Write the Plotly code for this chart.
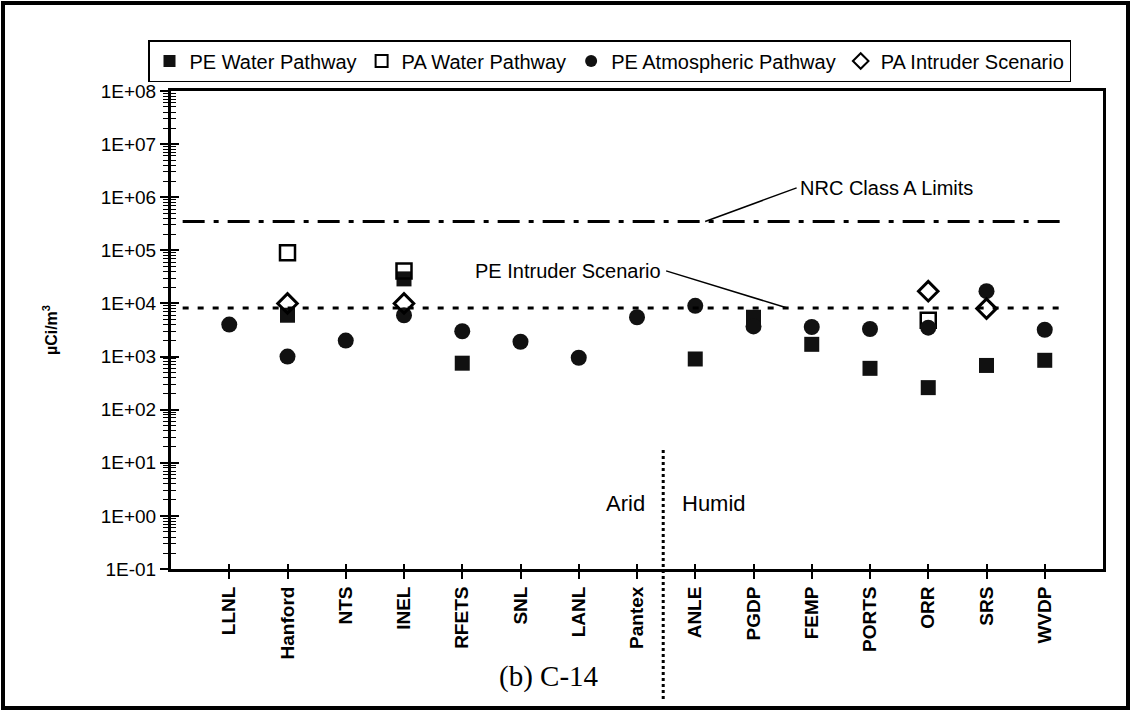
import numpy as np
import plotly.graph_objects as go

# ---------------- data ----------------
sites = ["LLNL", "Hanford", "NTS", "INEL", "RFETS", "SNL", "LANL", "Pantex",
         "ANLE", "PGDP", "FEMP", "PORTS", "ORR", "SRS", "WVDP"]
pe_water = [None, 6.0e3, None, 2.9e4, 7.5e2, None, None, None,
            9.0e2, 5.5e3, 1.7e3, 6.0e2, 2.6e2, 6.8e2, 8.5e2]
pa_water = [None, 9.0e4, None, 4.1e4, None, None, None, None,
            None, None, None, None, 4.8e3, None, None]
pe_atm = [4.0e3, 1.0e3, 2.0e3, 6.0e3, 3.0e3, 1.9e3, 9.5e2, 5.5e3,
          9.0e3, 3.7e3, 3.6e3, 3.3e3, 3.5e3, 1.7e4, 3.2e3]
pa_intruder = [None, 1.0e4, None, 1.0e4, None, None, None, None,
               None, None, None, None, 1.7e4, 8.0e3, None]
nrc_limit = 3.5e5
pe_intruder_limit = 8.2e3
ytick_vals = [1e-1, 1e0, 1e1, 1e2, 1e3, 1e4, 1e5, 1e6, 1e7, 1e8]
ytick_text = ["1E-01", "1E+00", "1E+01", "1E+02", "1E+03", "1E+04",
              "1E+05", "1E+06", "1E+07", "1E+08"]

# ---------------- geometry ----------------
W, H = 1131, 712
L, R, T, B = 171, 28, 91, 143
PW, PH = W - L - R, H - T - B
def px(xp):  # pixel x -> paper
    return (xp - L) / PW
def py(yp):  # pixel y -> paper
    return (H - B - yp) / PH

xpos = list(range(1, len(sites) + 1))
FONT = "Arial, Liberation Sans, sans-serif"

fig = go.Figure()
fig.add_trace(go.Scatter(x=xpos, y=pe_water, mode="markers", name="PE Water Pathway",
                         marker=dict(symbol="square", size=15, color="#111111")))
fig.add_trace(go.Scatter(x=xpos, y=pa_water, mode="markers", name="PA Water Pathway",
                         marker=dict(symbol="square-open", size=15, color="black",
                                     line=dict(width=2.5, color="black"))))
fig.add_trace(go.Scatter(x=xpos, y=pe_atm, mode="markers", name="PE Atmospheric Pathway",
                         marker=dict(symbol="circle", size=16, color="#111111")))
fig.add_trace(go.Scatter(x=xpos, y=pa_intruder, mode="markers", name="PA Intruder Scenario",
                         marker=dict(symbol="diamond-open", size=15, color="black",
                                     line=dict(width=3, color="black"))))

# reference lines
line_x = [0.2, 15.35]
fig.add_trace(go.Scatter(x=line_x, y=[nrc_limit] * 2, mode="lines", showlegend=False,
                         line=dict(color="black", width=3, dash="22px,9px,5px,9px")))
fig.add_trace(go.Scatter(x=line_x, y=[pe_intruder_limit] * 2, mode="lines", showlegend=False,
                         line=dict(color="black", width=3, dash="6px,9px")))
# leader lines
fig.add_trace(go.Scatter(x=[9.17, 10.74], y=[nrc_limit, 1.5e6], mode="lines", showlegend=False,
                         line=dict(color="black", width=1.5)))
fig.add_trace(go.Scatter(x=[8.5, 10.58], y=[4.1e4, pe_intruder_limit], mode="lines", showlegend=False,
                         line=dict(color="black", width=1.5)))

fig.add_annotation(x=10.77, y=np.log10(1.5e6), xref="x", yref="y", text="NRC Class A Limits",
                   showarrow=False, xanchor="left", yanchor="middle",
                   font=dict(family=FONT, size=20, color="black"))
fig.add_annotation(x=8.45, y=np.log10(4.1e4), xref="x", yref="y", text="PE Intruder Scenario",
                   showarrow=False, xanchor="right", yanchor="middle",
                   font=dict(family=FONT, size=20, color="black"))
fig.add_annotation(x=px(647), y=py(503), xref="paper", yref="paper", text="Arid",
                   showarrow=False, xanchor="right", yanchor="middle",
                   font=dict(family=FONT, size=22, color="black"))
fig.add_annotation(x=px(680), y=py(503), xref="paper", yref="paper", text="Humid",
                   showarrow=False, xanchor="left", yanchor="middle",
                   font=dict(family=FONT, size=22, color="black"))
fig.add_annotation(x=px(549), y=py(676), xref="paper", yref="paper", text="(b) C-14",
                   showarrow=False, xanchor="center", yanchor="middle",
                   font=dict(family="Times New Roman, Liberation Serif, serif", size=29, color="black"))

# Arid / Humid divider
fig.add_shape(type="line", xref="x", yref="paper", x0=8.45, x1=8.45, y0=py(450), y1=py(702),
              line=dict(color="black", width=3, dash="dot"))
# outer frame
fig.add_shape(type="rect", xref="paper", yref="paper", x0=px(3), x1=px(1128), y0=py(708), y1=py(3),
              line=dict(color="black", width=4))

fig.update_layout(
    width=W, height=H, margin=dict(l=L, r=R, t=T, b=B, autoexpand=False),
    paper_bgcolor="white", plot_bgcolor="white",
    font=dict(family=FONT, color="black"),
    showlegend=True,
    legend=dict(orientation="h", x=px(148), y=py(40), xanchor="left", yanchor="top",
                bordercolor="black", borderwidth=1.5, bgcolor="white",
                font=dict(family=FONT, size=20, color="black"),
                itemsizing="constant", itemwidth=30),
    xaxis=dict(range=[0, 16], tickmode="array", tickvals=xpos, ticktext=sites,
               tickangle=-90, ticks="outside", ticklen=7, tickwidth=1.5, tickcolor="black",
               showline=True, linecolor="black", linewidth=3, mirror=True,
               showgrid=False, zeroline=False,
               tickfont=dict(family=FONT, size=19, color="black", weight="bold")),
    yaxis=dict(type="log", range=[-1, 8], tickmode="array", tickvals=ytick_vals, ticktext=ytick_text,
               ticks="outside", ticklen=8, tickwidth=1.5, tickcolor="black",
               minor=dict(ticks="outside", ticklen=5, tickwidth=1, tickcolor="black", dtick="D1"),
               showline=True, linecolor="black", linewidth=3, mirror=True,
               showgrid=False, zeroline=False,
               tickfont=dict(family=FONT, size=19, color="black"),
               title=dict(text="µCi/m<sup>3</sup>", standoff=40,
                          font=dict(family=FONT, size=16, color="black", weight="bold"))),
    yaxis2=dict(type="log", range=[-1, 8], overlaying="y", side="left", tickmode="array",
                tickvals=ytick_vals, ticks="inside", ticklen=8, tickwidth=1.5, tickcolor="black",
                minor=dict(ticks="inside", ticklen=5, tickwidth=1, tickcolor="black", dtick="D1"),
                showticklabels=False, showline=False, showgrid=False, zeroline=False),
    xaxis2=dict(range=[0, 16], overlaying="x", side="bottom", tickmode="array",
                tickvals=xpos + [16], ticks="inside", ticklen=5, tickwidth=1.5, tickcolor="black",
                showticklabels=False, showline=False, showgrid=False, zeroline=False),
)
# invisible trace so the overlay axes render
fig.add_trace(go.Scatter(x=[None], y=[None], xaxis="x2", yaxis="y2", showlegend=False, hoverinfo="skip"))

fig.write_html("out.html")
